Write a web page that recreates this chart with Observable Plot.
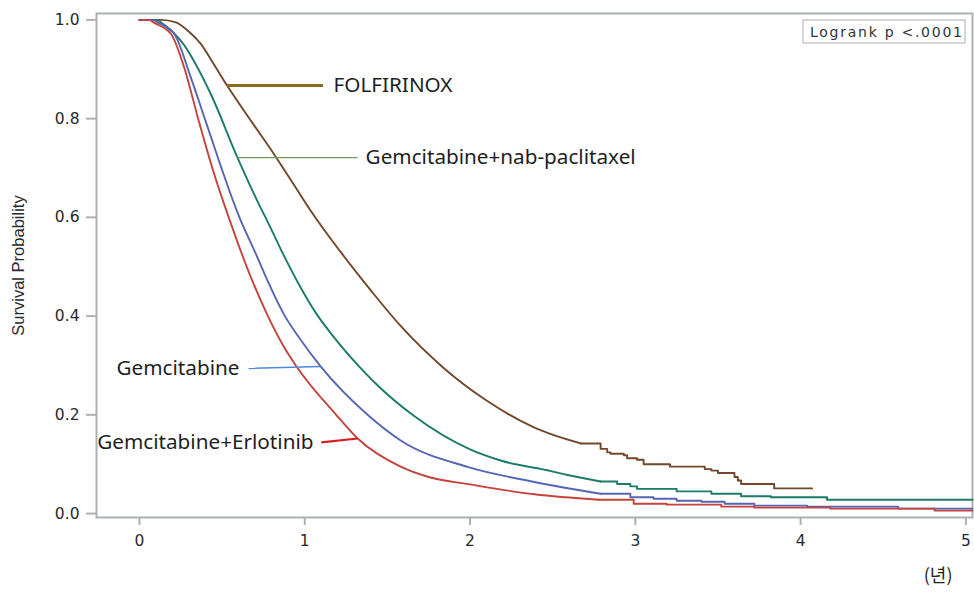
<!DOCTYPE html>
<html><head><meta charset="utf-8">
<script src="https://cdn.jsdelivr.net/npm/d3@7"></script>
<script src="https://cdn.jsdelivr.net/npm/@observablehq/plot@0.6"></script>
<style>
body{margin:0;background:#fff;}
#chart{width:974px;height:594px;}
</style></head><body><div id="chart"></div>
<script>
// ---- data ----
const seriesNames = ["FOLFIRINOX", "Gemcitabine+nab-paclitaxel", "Gemcitabine", "Gemcitabine+Erlotinib"];

// [time in years, survival probability]
const folfirinoxPts = [[0,1.0],[0.13,1.0],[0.22,0.995],[0.30,0.976],[0.37,0.952],[0.45,0.91],[0.53,0.867],[0.68,0.793],[0.81,0.730],[0.975,0.645],[1.035,0.614],[1.217,0.530],[1.40,0.452],[1.58,0.380],[1.84,0.295],[2.10,0.229],[2.39,0.174],[2.67,0.142],
  [2.79,0.131],[2.83,0.124],[2.85,0.121],[2.93,0.118],[2.95,0.112],[3.01,0.109],[3.05,0.100],[3.21,0.095],[3.42,0.090],[3.46,0.087],[3.50,0.082],[3.60,0.074],[3.62,0.067],[3.64,0.060],[3.84,0.051],[4.07,0.051]];
const nabPaclitaxelPts = [[0,1.0],[0.10,1.0],[0.15,0.99],[0.25,0.958],[0.43,0.851],[0.593,0.721],[0.712,0.634],[0.77,0.595],[0.873,0.523],[0.975,0.458],[1.07,0.405],[1.17,0.36],[1.38,0.280],[1.44,0.260],[1.66,0.198],[2.0,0.13],[2.19,0.107],[2.49,0.086],[2.59,0.078],[2.79,0.065],
  [2.89,0.060],[2.97,0.055],[3.01,0.050],[3.25,0.045],[3.46,0.040],[3.64,0.035],[3.82,0.033],[4.16,0.028],[5.04,0.028]];
const gemcitabinePts = [[0,1.0],[0.08,1.0],[0.11,0.995],[0.21,0.972],[0.31,0.884],[0.395,0.80],[0.605,0.60],[0.712,0.52],[0.76,0.483],[0.88,0.40],[0.975,0.352],[1.096,0.298],[1.38,0.20],[1.58,0.148],[1.99,0.094],[2.39,0.064],[2.79,0.040],
  [2.97,0.033],[3.11,0.030],[3.25,0.026],[3.40,0.024],[3.54,0.020],[3.72,0.016],[4.04,0.014],[4.59,0.010],[5.04,0.010]];
const erlotinibPts = [[0,1.0],[0.06,1.0],[0.085,0.995],[0.19,0.972],[0.27,0.904],[0.355,0.80],[0.45,0.69],[0.54,0.60],[0.67,0.482],[0.77,0.405],[0.87,0.34],[0.95,0.298],[1.19,0.20],[1.32,0.152],[1.58,0.095],[1.76,0.073],[2.0,0.059],[2.39,0.039],[2.78,0.028],
  [2.99,0.020],[3.19,0.018],[3.52,0.014],[3.72,0.012],[4.18,0.010],[4.81,0.006],[5.04,0.006]];
// time after which the drawn curve is a visible step function
const stepFrom = [2.67, 2.79, 2.79, 2.78];

const xTicks = [0, 1, 2, 3, 4, 5];
const yTicks = [0, 0.2, 0.4, 0.6, 0.8, 1.0];
const yTitle = "Survival Probability";
const xUnit = "(년)";
const logrankText = "Logrank p <.0001";

// label annotations: time where leader meets curve, far end of leader, label position
const labelCurveT = [0.53, 0.593, 1.096, 1.32];
const leaderEndT = [1.11, 1.32, 0.66, 1.10];
const labelT = [1.174, 1.368, 0.605, 1.053];
const leaderEndShift = [0, 0, -0.004, -0.008];

// ---- styles ----
const lineColors = ["#73472a", "#1b7b6b", "#5565b4", "#c4433c"];
const leaderColors = ["#8b6b1e", "#6f9c5c", "#4f88d6", "#d41f1f"];
const leaderWidths = [3, 1.2, 1.6, 2.2];
const labelAnchors = ["start", "start", "end", "end"];
const axisGray = "#aab1b6";
const sansWide = "'DejaVu Sans', Verdana, sans-serif";

const allPts = [folfirinoxPts, nabPaclitaxelPts, gemcitabinePts, erlotinibPts];
const tables = allPts.map(pts => pts.map(([t, s]) => ({t, s})));

function valueAt(tab, t) {
  for (let i = 1; i < tab.length; i++) {
    if (tab[i].t >= t) {
      const a = tab[i - 1], b = tab[i];
      return a.s + (b.s - a.s) * (t - a.t) / (b.t - a.t);
    }
  }
  return tab[tab.length - 1].s;
}

const marks = [];
marks.push(Plot.frame({stroke: axisGray, strokeWidth: 2}));
tables.forEach((tab, i) => {
  marks.push(Plot.line(tab.filter(d => d.t <= stepFrom[i]), {x: "t", y: "s", stroke: lineColors[i], strokeWidth: 1.9, curve: "monotone-x"}));
  marks.push(Plot.line(tab.filter(d => d.t >= stepFrom[i]), {x: "t", y: "s", stroke: lineColors[i], strokeWidth: 1.9, curve: "step-after"}));
});
const leaders = seriesNames.map((name, i) => {
  const s = valueAt(tables[i], labelCurveT[i]);
  return {name, x1: labelCurveT[i], y1: s, x2: leaderEndT[i], y2: s + leaderEndShift[i], lx: labelT[i]};
});
leaders.forEach((d, i) => {
  marks.push(Plot.link([d], {x1: "x1", y1: "y1", x2: "x2", y2: "y2", stroke: leaderColors[i], strokeWidth: leaderWidths[i]}));
  marks.push(Plot.text([d], {x: "lx", y: "y2", text: "name", textAnchor: labelAnchors[i], lineAnchor: "middle", fontSize: 20.7, fill: "#1e1e1e", fontFamily: "'Noto Sans', sans-serif"}));
});
marks.push(Plot.axisX({ticks: xTicks, tickFormat: "d", tickSize: 8, tickPadding: 9, stroke: axisGray, strokeWidth: 2, fill: "#2a2a2a", fontSize: 15.5, fontFamily: sansWide, label: null}));
marks.push(Plot.axisY({ticks: yTicks, tickSize: 10, tickPadding: 7, tickFormat: ".1f", stroke: axisGray, strokeWidth: 2, fill: "#2a2a2a", fontSize: 15.5, fontFamily: sansWide, label: null}));
marks.push(Plot.text([yTitle], {frameAnchor: "left", dx: -78, rotate: -90, textAnchor: "middle", fontSize: 16.5, fill: "#2a2a2a", fontFamily: "'Liberation Sans', Arial, sans-serif"}));
marks.push(Plot.text([xUnit], {frameAnchor: "bottom-right", dx: -20, dy: 64, textAnchor: "end", fontSize: 18, fill: "#222", fontFamily: "'Noto Sans CJK KR', sans-serif"}));
// logrank box
marks.push((index, scales, values, dims) => {
  const g = d3.create("svg:g");
  const right = dims.width - dims.marginRight;
  const top = dims.marginTop;
  g.append("rect").attr("x", right - 169).attr("y", top + 7).attr("width", 162).attr("height", 23)
    .attr("fill", "#fff").attr("stroke", "#c8c8c8").attr("stroke-width", 1.5);
  g.append("text").attr("x", right - 162).attr("y", top + 23.5).attr("font-size", 14)
    .attr("text-anchor", "start").attr("textLength", 152).attr("lengthAdjust", "spacing")
    .attr("font-family", sansWide).attr("fill", "#333").text(logrankText);
  return g.node();
});

const chart = Plot.plot({
  width: 974, height: 594,
  marginTop: 13, marginRight: 2, marginBottom: 77, marginLeft: 96,
  style: {fontFamily: sansWide, fontSize: "15px", background: "#fff"},
  x: {domain: [-0.26, 5.04]},
  y: {domain: [-0.008, 1.013]},
  marks
});
document.getElementById("chart").append(chart);
</script></body></html>
